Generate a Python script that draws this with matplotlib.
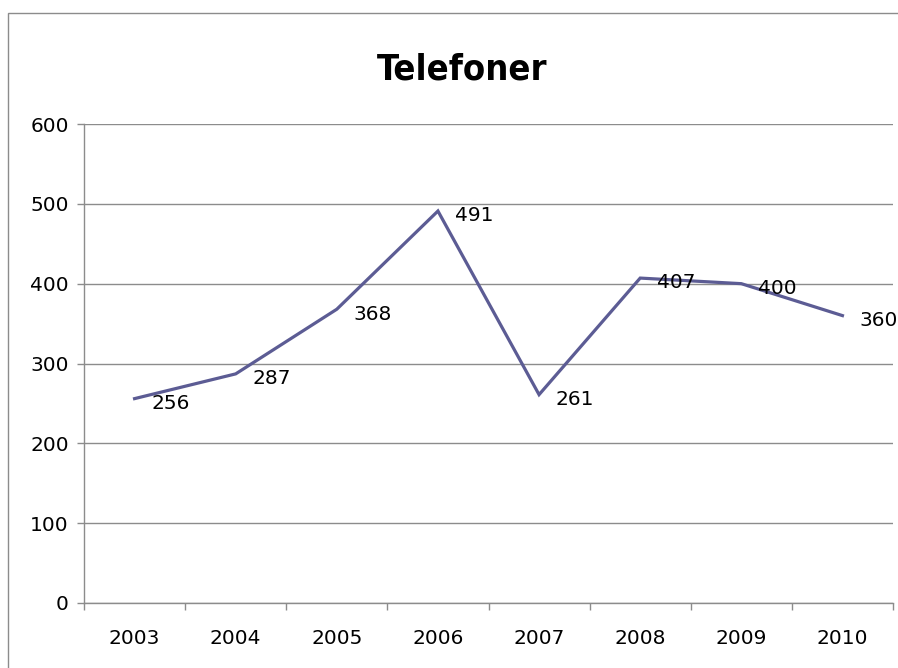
import matplotlib
matplotlib.use("Agg")
import matplotlib.pyplot as plt
from matplotlib.patches import Rectangle

years = ["2003", "2004", "2005", "2006", "2007", "2008", "2009", "2010"]
values = [256, 287, 368, 491, 261, 407, 400, 360]
y_ticks = [0, 100, 200, 300, 400, 500, 600]
title = "Telefoner"

W, H = 898, 668
fig = plt.figure(figsize=(W / 100, H / 100), dpi=100)
plt.rcParams['font.family'] = ['DejaVu Sans']

# outer chart frame
fig.patches.append(Rectangle((8 / W, -0.05), 1.2, (H - 13) / H + 0.05,
                             transform=fig.transFigure, fill=False,
                             edgecolor="#8c8c8c", linewidth=1.0))

ax = fig.add_axes([84 / W, (H - 603) / H, (893 - 84) / W, (603 - 124) / H])
x = list(range(len(years)))
line_color = "#5c5c94"
ax.plot(x, values, color=line_color, linewidth=2.3, solid_joinstyle="miter")

for xi, v in zip(x, values):
    ax.annotate(str(v), (xi, v), xytext=(12, -3.5), textcoords="offset points",
                ha="left", va="center", fontsize=14.5, color="black")

ax.set_xlim(-0.5, len(years) - 0.5)
ax.set_ylim(0, 600)
ax.set_yticks(y_ticks)
ax.set_yticklabels([str(t) for t in y_ticks], fontsize=14.5)
ax.set_xticks(x)
ax.set_xticklabels(years, fontsize=14.5)
ax.set_xticks([i - 0.5 for i in range(len(years) + 1)], minor=True)
ax.tick_params(axis="x", which="major", length=0, pad=19)
ax.tick_params(axis="x", which="minor", length=5, color="#8c8c8c", width=1)
ax.tick_params(axis="y", length=5, color="#8c8c8c", width=1, pad=6)

ax.grid(axis="y", color="#8c8c8c", linewidth=1.0)
ax.set_axisbelow(True)
for s in ["top", "right"]:
    ax.spines[s].set_visible(False)
for s in ["left", "bottom"]:
    ax.spines[s].set_color("#8c8c8c")
    ax.spines[s].set_linewidth(1.0)

fig.text(462 / W, 1 - 70 / H, title, ha="center", va="center",
         fontsize=26, fontweight="bold", fontstretch="condensed", color="black")

fig.savefig("out.png", dpi=100)
